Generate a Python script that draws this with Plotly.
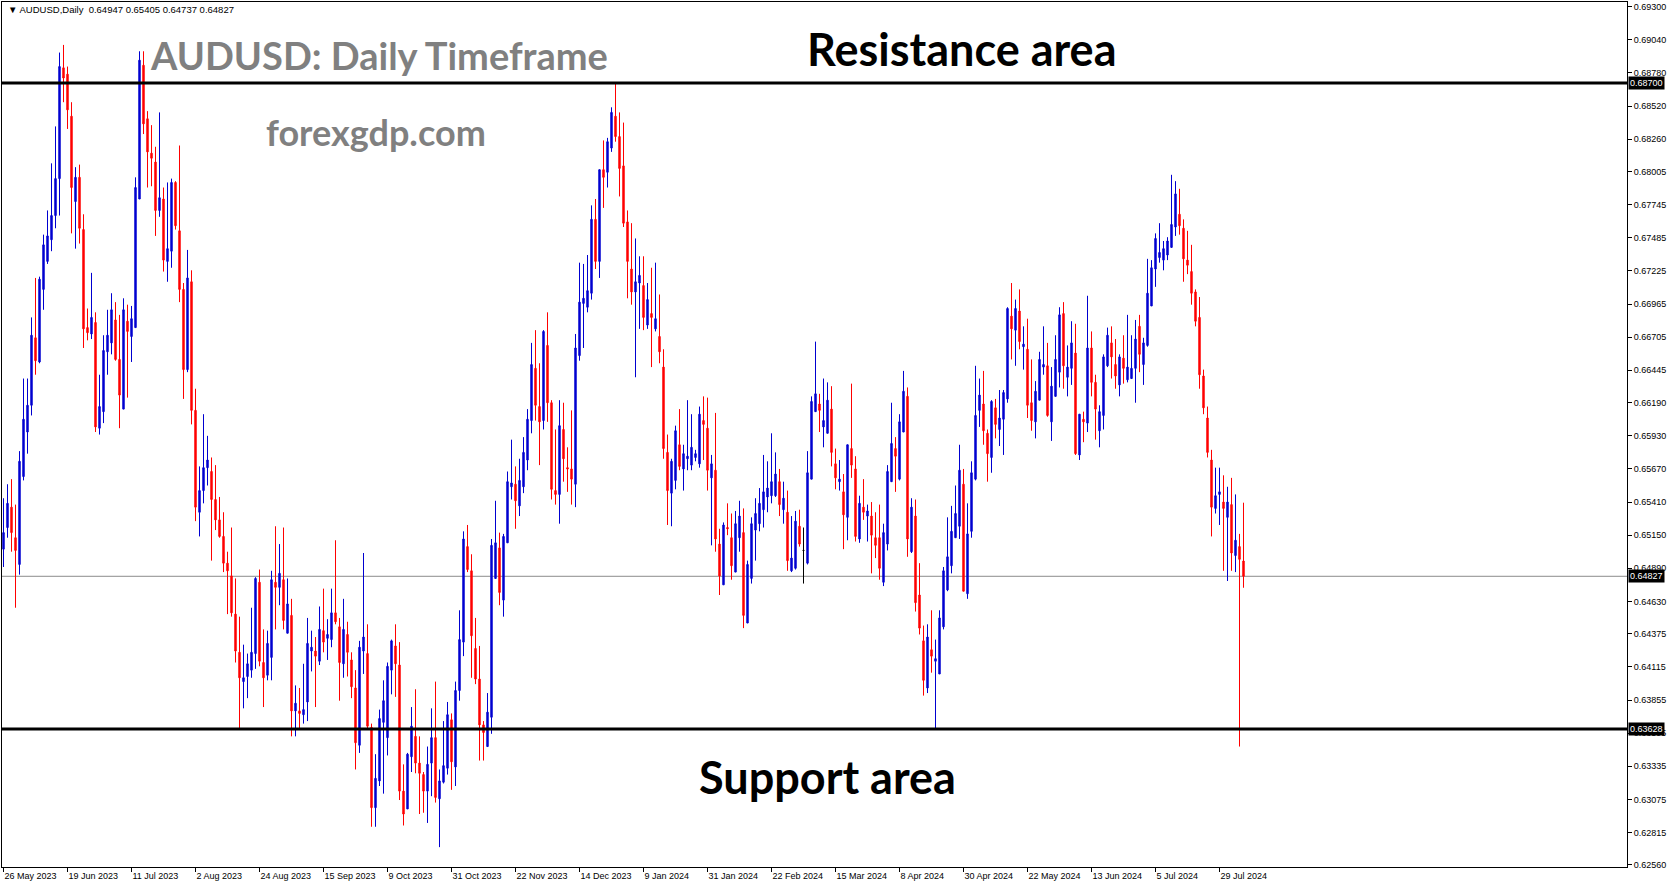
import plotly.graph_objects as go

# ---------------- data (AUDUSD daily) ----------------
open_ = [
    0.6504,0.6521,0.6537,0.6513,0.6492,0.6561,0.6596,0.6617,0.6670,0.6651,
    0.6708,0.6730,0.6747,0.6766,0.6795,0.6882,0.6877,0.6844,0.6777,0.6796,
    0.6755,0.6678,0.6673,0.6682,0.6599,0.6612,0.6659,0.6666,0.6684,0.6653,
    0.6614,0.6683,0.6671,0.6678,0.6779,0.6884,0.6842,0.6815,0.6808,0.6770,
    0.6779,0.6730,0.6738,0.6792,0.6754,0.6708,0.6645,0.6714,0.6613,0.6533,
    0.6550,0.6568,0.6565,0.6543,0.6527,0.6514,0.6493,0.6483,0.6453,0.6423,
    0.6400,0.6404,0.6409,0.6422,0.6478,0.6415,0.6405,0.6419,0.6478,0.6474,
    0.6480,0.6438,0.6452,0.6377,0.6377,0.6374,0.6384,0.6424,0.6424,0.6416,
    0.6440,0.6434,0.6433,0.6454,0.6443,0.6414,0.6437,0.6417,0.6395,0.6350,
    0.6424,0.6422,0.6364,0.6301,0.6322,0.6368,0.6356,0.6409,0.6428,0.6413,
    0.6314,0.6300,0.6341,0.6357,0.6336,0.6327,0.6314,0.6336,0.6356,0.6308,
    0.6321,0.6332,0.6370,0.6333,0.6393,0.6431,0.6506,0.6487,0.6426,0.6402,
    0.6366,0.6349,0.6372,0.6481,0.6505,0.6464,0.6509,0.6553,0.6555,0.6538,
    0.6553,0.6574,0.6605,0.6646,0.6616,0.6605,0.6664,0.6619,0.6550,0.6547,
    0.6598,0.6568,0.6567,0.6555,0.6656,0.6697,0.6694,0.6705,0.6763,0.6730,
    0.6802,0.6800,0.6819,0.6844,0.6828,0.6805,0.6761,0.6724,0.6706,0.6713,
    0.6711,0.6680,0.6689,0.6677,0.6671,0.6647,0.6580,0.6548,0.6558,0.6586,
    0.6567,0.6575,0.6570,0.6576,0.6571,0.6605,0.6599,0.6560,0.6566,0.6508,
    0.6476,0.6521,0.6513,0.6486,0.6513,0.6517,0.6446,0.6481,0.6519,0.6524,
    0.6535,0.6545,0.6546,0.6546,0.6557,0.6535,0.6533,0.6487,0.6489,0.6522,
    0.6503,0.6493,0.6559,0.6612,0.6618,0.6600,0.6595,0.6614,0.6571,0.6557,
    0.6549,0.6529,0.6583,0.6567,0.6512,0.6537,0.6530,0.6530,0.6513,0.6513,
    0.6478,0.6508,0.6557,0.6583,0.6559,0.6596,0.6624,0.6502,0.6530,0.6468,
    0.6432,0.6395,0.6425,0.6416,0.6406,0.6443,0.6472,0.6491,0.6513,0.6522,
    0.6555,0.6469,0.6518,0.6559,0.6613,0.6618,0.6595,0.6576,0.6615,0.6598,
    0.6606,0.6622,0.6687,0.6676,0.6691,0.6663,0.6661,0.6619,0.6604,0.6621,
    0.6647,0.6648,0.6604,0.6624,0.6643,0.6689,0.6639,0.6646,0.6658,0.6578,
    0.6606,0.6603,0.6662,0.6635,0.6597,0.6609,0.6648,0.6666,0.6649,0.6633,
    0.6654,0.6637,0.6638,0.6646,0.6679,0.6649,0.6664,0.6695,0.6724,0.6733,
    0.6731,0.6735,0.6741,0.6757,0.6767,0.6756,0.6731,0.6722,0.6706,0.6686,
    0.6640,0.6607,0.6574,0.6536,0.6547,0.6541,0.6529,0.6539,0.6499,0.6506,
    0.64947,
]
high = [
    0.6544,0.6555,0.6559,0.6539,0.6581,0.6638,0.6638,0.6686,0.6717,0.6718,
    0.6751,0.6770,0.6807,0.6836,0.6894,0.6900,0.6883,0.6855,0.6804,0.6806,
    0.6767,0.6693,0.6721,0.6690,0.6641,0.6672,0.6692,0.6705,0.6698,0.6688,
    0.6701,0.6696,0.6695,0.6796,0.6895,0.6895,0.6848,0.6837,0.6820,0.6847,
    0.6788,0.6792,0.6795,0.6793,0.6821,0.6713,0.6739,0.6723,0.6630,0.6569,
    0.6610,0.6593,0.6576,0.6570,0.6545,0.6533,0.6502,0.6521,0.6481,0.6451,
    0.6429,0.6422,0.6458,0.6482,0.6488,0.6441,0.6440,0.6487,0.6522,0.6508,
    0.6521,0.6481,0.6465,0.6397,0.6395,0.6414,0.6450,0.6440,0.6435,0.6459,
    0.6473,0.6449,0.6473,0.6511,0.6450,0.6465,0.6447,0.6423,0.6409,0.6432,
    0.6501,0.6445,0.6367,0.6343,0.6378,0.6401,0.6415,0.6433,0.6445,0.6431,
    0.6335,0.6344,0.6380,0.6394,0.6357,0.6329,0.6349,0.6379,0.6400,0.6331,
    0.6369,0.6384,0.6375,0.6400,0.6456,0.6518,0.6523,0.6500,0.6450,0.6428,
    0.6369,0.6391,0.6512,0.6542,0.6517,0.6516,0.6565,0.6590,0.6569,0.6575,
    0.6592,0.6614,0.6666,0.6676,0.6650,0.6676,0.6690,0.6621,0.6598,0.6621,
    0.6619,0.6584,0.6613,0.6673,0.6729,0.6728,0.6735,0.6774,0.6779,0.6802,
    0.6825,0.6827,0.6851,0.6870,0.6847,0.6839,0.6770,0.6760,0.6748,0.6734,
    0.6734,0.6713,0.6725,0.6729,0.6704,0.6661,0.6594,0.6575,0.6601,0.6614,
    0.6586,0.6621,0.6610,0.6582,0.6616,0.6624,0.6623,0.6578,0.6611,0.6520,
    0.6525,0.6540,0.6532,0.6534,0.6542,0.6536,0.6495,0.6529,0.6544,0.6552,
    0.6578,0.6573,0.6595,0.6580,0.6567,0.6557,0.6550,0.6530,0.6534,0.6535,
    0.6521,0.6581,0.6624,0.6667,0.6626,0.6638,0.6635,0.6632,0.6583,0.6574,
    0.6563,0.6586,0.6634,0.6577,0.6546,0.6559,0.6539,0.6541,0.6533,0.6539,
    0.6524,0.6570,0.6619,0.6592,0.6610,0.6644,0.6631,0.6544,0.6543,0.6493,
    0.6444,0.6445,0.6456,0.6433,0.6456,0.6490,0.6529,0.6538,0.6554,0.6586,
    0.6567,0.6540,0.6573,0.6648,0.6638,0.6644,0.6598,0.6621,0.6622,0.6629,
    0.6629,0.6694,0.6713,0.6700,0.6708,0.6679,0.6685,0.6653,0.6636,0.6659,
    0.6679,0.6666,0.6647,0.6672,0.6694,0.6698,0.6664,0.6683,0.6681,0.6610,
    0.6612,0.6703,0.6675,0.6641,0.6617,0.6657,0.6678,0.6679,0.6669,0.6657,
    0.6672,0.6688,0.6672,0.6684,0.6688,0.6670,0.6732,0.6731,0.6752,0.6760,
    0.6746,0.6749,0.6798,0.6793,0.6787,0.6763,0.6754,0.6743,0.6708,0.6702,
    0.6645,0.6616,0.6582,0.6568,0.6568,0.6562,0.6553,0.6560,0.6547,0.6516,
    0.65405,
]
low = [
    0.6490,0.6513,0.6502,0.6458,0.6484,0.6558,0.6579,0.6609,0.6641,0.6650,
    0.6692,0.6728,0.6738,0.6756,0.6766,0.6855,0.6834,0.6752,0.6740,0.6744,
    0.6662,0.6668,0.6669,0.6596,0.6594,0.6603,0.6641,0.6657,0.6652,0.6599,
    0.6614,0.6623,0.6651,0.6678,0.6779,0.6830,0.6788,0.6789,0.6750,0.6765,
    0.6722,0.6714,0.6725,0.6755,0.6698,0.6622,0.6643,0.6602,0.6526,0.6514,
    0.6540,0.6554,0.6495,0.6519,0.6513,0.6486,0.6453,0.6451,0.6415,0.6363,
    0.6379,0.6387,0.6403,0.6410,0.6412,0.6380,0.6401,0.6401,0.6441,0.6460,
    0.6441,0.6438,0.6357,0.6357,0.6363,0.6367,0.6369,0.6408,0.6380,0.6413,
    0.6423,0.6417,0.6427,0.6445,0.6385,0.6403,0.6404,0.6387,0.6331,0.6344,
    0.6406,0.6362,0.6286,0.6286,0.6318,0.6312,0.6342,0.6390,0.6388,0.6307,
    0.6287,0.6300,0.6329,0.6328,0.6296,0.6297,0.6289,0.6310,0.6305,0.6270,
    0.6320,0.6327,0.6315,0.6318,0.6385,0.6420,0.6486,0.6403,0.6398,0.6338,
    0.6338,0.6349,0.6359,0.6481,0.6460,0.6451,0.6509,0.6543,0.6520,0.6530,
    0.6548,0.6566,0.6595,0.6605,0.6570,0.6598,0.6604,0.6543,0.6539,0.6524,
    0.6557,0.6549,0.6539,0.6537,0.6652,0.6662,0.6690,0.6700,0.6724,0.6717,
    0.6772,0.6788,0.6816,0.6824,0.6781,0.6757,0.6701,0.6696,0.6639,0.6677,
    0.6676,0.6677,0.6647,0.6675,0.6650,0.6575,0.6523,0.6522,0.6551,0.6566,
    0.6550,0.6566,0.6566,0.6573,0.6568,0.6574,0.6550,0.6507,0.6502,0.6468,
    0.6476,0.6515,0.6480,0.6486,0.6502,0.6442,0.6446,0.6477,0.6495,0.6518,
    0.6521,0.6533,0.6540,0.6545,0.6530,0.6524,0.6487,0.6486,0.6488,0.6506,
    0.6477,0.6492,0.6559,0.6612,0.6596,0.6584,0.6595,0.6569,0.6551,0.6550,
    0.6504,0.6511,0.6560,0.6510,0.6509,0.6527,0.6510,0.6485,0.6497,0.6480,
    0.6475,0.6503,0.6557,0.6549,0.6558,0.6596,0.6498,0.6501,0.6455,0.6437,
    0.6389,0.6391,0.6407,0.6363,0.6406,0.6441,0.6471,0.6485,0.6513,0.6512,
    0.6471,0.6465,0.6513,0.6558,0.6600,0.6586,0.6557,0.6564,0.6591,0.6585,
    0.6578,0.6619,0.6653,0.6648,0.6661,0.6645,0.6607,0.6597,0.6591,0.6621,
    0.6641,0.6608,0.6589,0.6624,0.6631,0.6630,0.6624,0.6633,0.6578,0.6574,
    0.6588,0.6596,0.6624,0.6590,0.6584,0.6598,0.6647,0.6638,0.6630,0.6624,
    0.6634,0.6635,0.6638,0.6619,0.6643,0.6633,0.6663,0.6695,0.6710,0.6729,
    0.6723,0.6731,0.6741,0.6750,0.6751,0.6714,0.6720,0.6696,0.6679,0.6630,
    0.6610,0.6576,0.6514,0.6532,0.6523,0.6487,0.6479,0.6487,0.6486,0.6349,
    0.64737,
]
close = [
    0.6517,0.6540,0.6517,0.6503,0.6573,0.6606,0.6617,0.6672,0.6652,0.6716,
    0.6743,0.6750,0.6766,0.6795,0.6883,0.6874,0.6849,0.6788,0.6796,0.6756,
    0.6677,0.6674,0.6686,0.6600,0.6616,0.6660,0.6672,0.6692,0.6653,0.6625,
    0.6692,0.6675,0.6685,0.6788,0.6888,0.6838,0.6816,0.6811,0.6770,0.6780,
    0.6731,0.6740,0.6792,0.6758,0.6708,0.6645,0.6717,0.6613,0.6537,0.6550,
    0.6568,0.6574,0.6543,0.6527,0.6514,0.6493,0.6487,0.6454,0.6424,0.6403,
    0.6403,0.6414,0.6423,0.6481,0.6416,0.6403,0.6430,0.6480,0.6474,0.6485,
    0.6448,0.6461,0.6377,0.6383,0.6375,0.6378,0.6430,0.6427,0.6420,0.6441,
    0.6431,0.6437,0.6454,0.6447,0.6415,0.6441,0.6423,0.6396,0.6352,0.6427,
    0.6435,0.6365,0.6301,0.6324,0.6371,0.6385,0.6412,0.6432,0.6414,0.6314,
    0.6296,0.6343,0.6365,0.6336,0.6328,0.6314,0.6335,0.6356,0.6309,0.6322,
    0.6334,0.6374,0.6337,0.6393,0.6433,0.6512,0.6488,0.6436,0.6402,0.6366,
    0.6360,0.6376,0.6507,0.6509,0.6470,0.6514,0.6557,0.6556,0.6542,0.6558,
    0.6580,0.6606,0.6649,0.6617,0.6604,0.6675,0.6619,0.6551,0.6547,0.6601,
    0.6575,0.6567,0.6559,0.6662,0.6698,0.6701,0.6707,0.6763,0.6730,0.6802,
    0.6796,0.6824,0.6847,0.6828,0.6803,0.6760,0.6730,0.6706,0.6714,0.6719,
    0.6686,0.6700,0.6686,0.6685,0.6659,0.6583,0.6550,0.6573,0.6597,0.6569,
    0.6579,0.6577,0.6584,0.6579,0.6610,0.6602,0.6566,0.6571,0.6512,0.6483,
    0.6523,0.6520,0.6491,0.6524,0.6530,0.6452,0.6492,0.6524,0.6532,0.6540,
    0.6549,0.6552,0.6557,0.6563,0.6539,0.6544,0.6495,0.6497,0.6526,0.6508,
    0.6503,0.6564,0.6620,0.6626,0.6613,0.6605,0.6621,0.6580,0.6560,0.6559,
    0.6531,0.6586,0.6570,0.6514,0.6540,0.6533,0.6534,0.6515,0.6507,0.6489,
    0.6517,0.6565,0.6587,0.6577,0.6604,0.6628,0.6512,0.6537,0.6462,0.6442,
    0.6401,0.6435,0.6420,0.6418,0.6450,0.6487,0.6498,0.6518,0.6532,0.6566,
    0.6471,0.6516,0.6564,0.6609,0.6625,0.6597,0.6579,0.6620,0.6602,0.6607,
    0.6627,0.6693,0.6677,0.6693,0.6667,0.6665,0.6617,0.6605,0.6628,0.6653,
    0.6649,0.6609,0.6632,0.6653,0.6688,0.6648,0.6647,0.6666,0.6579,0.6610,
    0.6604,0.6662,0.6635,0.6614,0.6612,0.6655,0.6672,0.6655,0.6640,0.6655,
    0.6646,0.6647,0.6646,0.6669,0.6657,0.6666,0.6705,0.6725,0.6748,0.6737,
    0.6740,0.6746,0.6759,0.6783,0.6758,0.6732,0.6727,0.6705,0.6683,0.6641,
    0.6615,0.6580,0.6537,0.6546,0.6549,0.6536,0.6541,0.6501,0.6511,0.6496,
    0.64827,
]

date_labels = ["26 May 2023", "19 Jun 2023", "11 Jul 2023", "2 Aug 2023", "24 Aug 2023",
               "15 Sep 2023", "9 Oct 2023", "31 Oct 2023", "22 Nov 2023", "14 Dec 2023",
               "9 Jan 2024", "31 Jan 2024", "22 Feb 2024", "15 Mar 2024", "8 Apr 2024",
               "30 Apr 2024", "22 May 2024", "13 Jun 2024", "5 Jul 2024", "29 Jul 2024"]
date_label_bars = [0, 16, 32, 48, 64, 80, 96, 112, 128, 144, 160, 176, 192, 208, 224,
                   240, 256, 272, 288, 304]

price_ticks = [0.69300, 0.69040, 0.68780, 0.68520, 0.68260, 0.68005, 0.67745, 0.67485,
               0.67225, 0.66965, 0.66705, 0.66445, 0.66190, 0.65930, 0.65670, 0.65410,
               0.65150, 0.64890, 0.64630, 0.64375, 0.64115, 0.63855, 0.63595, 0.63335,
               0.63075, 0.62815, 0.62560]

resistance = 0.68700
support = 0.63628
last_price = 0.64827
header_ohlc = [0.64947, 0.65405, 0.64737, 0.64827]

# ---------------- figure ----------------
BLUE = "#0000D0"
RED = "#FF0000"

n = len(close)
assert len(open_) == len(high) == len(low) == n
bars = list(range(n))
hi = [max(h, o, c) for h, o, c in zip(high, open_, close)]
lo = [min(l, o, c) for l, o, c in zip(low, open_, close)]

norm = [i for i in bars if open_[i] != close[i]]
doji = [i for i in bars if open_[i] == close[i]]

fig = go.Figure()
fig.add_trace(go.Candlestick(
    x=norm,
    open=[open_[i] for i in norm], high=[hi[i] for i in norm],
    low=[lo[i] for i in norm], close=[close[i] for i in norm],
    increasing=dict(line=dict(color=BLUE, width=1), fillcolor=BLUE),
    decreasing=dict(line=dict(color=RED, width=1), fillcolor=RED),
    whiskerwidth=0, showlegend=False, hoverinfo="skip",
))
if doji:
    fig.add_trace(go.Candlestick(
        x=doji,
        open=[open_[i] for i in doji], high=[hi[i] for i in doji],
        low=[lo[i] for i in doji], close=[close[i] for i in doji],
        increasing=dict(line=dict(color="black", width=1), fillcolor="black"),
        decreasing=dict(line=dict(color="black", width=1), fillcolor="black"),
        whiskerwidth=0, showlegend=False, hoverinfo="skip",
    ))

# horizontal levels
fig.add_shape(type="line", xref="paper", x0=0, x1=1, yref="y", y0=last_price, y1=last_price,
              line=dict(color="#8C8C8C", width=1), layer="below")
for lvl in (resistance, support):
    fig.add_shape(type="line", xref="paper", x0=0, x1=1, yref="y", y0=lvl, y1=lvl,
                  line=dict(color="black", width=3), layer="above")

AX_FONT = dict(family="Liberation Sans, Arial, sans-serif", size=9, color="black")

# price boxes on the right axis
for lvl in (resistance, last_price, support):
    fig.add_annotation(xref="paper", x=1, xanchor="left", xshift=1,
                       yref="y", y=lvl, yanchor="middle",
                       text=f"{lvl:.5f}", showarrow=False,
                       font=dict(family=AX_FONT["family"], size=9, color="white"),
                       bgcolor="black", borderpad=1)

# header line
fig.add_annotation(xref="paper", yref="paper", x=0.0025, y=0.9915, xanchor="left", yanchor="middle",
                   text="▼ AUDUSD,Daily  " + " ".join(f"{v:.5f}" for v in header_ohlc),
                   showarrow=False,
                   font=dict(family=AX_FONT["family"], size=9.5, color="black"))

TXT = "Lato, Open Sans, sans-serif"
fig.add_annotation(xref="paper", yref="paper", x=0.232, y=0.9387, xanchor="center", yanchor="middle",
                   text="<b>AUDUSD: Daily Timeframe</b>", showarrow=False,
                   font=dict(family=TXT, size=38, color="#808080"))
fig.add_annotation(xref="paper", yref="paper", x=0.230, y=0.8497, xanchor="center", yanchor="middle",
                   text="<b>forexgdp.com</b>", showarrow=False,
                   font=dict(family=TXT, size=36, color="#808080"))
fig.add_annotation(xref="paper", yref="paper", x=0.5908, y=0.9457, xanchor="center", yanchor="middle",
                   text="<b>Resistance area</b>", showarrow=False,
                   font=dict(family=TXT, size=45, color="black"))
fig.add_annotation(xref="paper", yref="paper", x=0.5077, y=0.104, xanchor="center", yanchor="middle",
                   text="<b>Support area</b>", showarrow=False,
                   font=dict(family=TXT, size=45, color="black"))

fig.update_layout(
    width=1673, height=888,
    margin=dict(l=2, r=46, t=2, b=21),
    paper_bgcolor="white", plot_bgcolor="white",
    boxgap=0.5,
    showlegend=False,
    hovermode=False,
    xaxis=dict(
        range=[-0.375, 405.875], rangeslider=dict(visible=False),
        showgrid=False, zeroline=False,
        showline=True, linecolor="black", linewidth=1, mirror=True,
        ticks="outside", ticklen=4, tickcolor="black", tickwidth=1,
        tickvals=date_label_bars, ticktext=date_labels,
        ticklabelposition="outside right",
        tickfont=AX_FONT,
    ),
    yaxis=dict(
        side="right", range=[0.62544, 0.69337],
        showgrid=False, zeroline=False,
        showline=True, linecolor="black", linewidth=1, mirror=True,
        ticks="outside", ticklen=4, tickcolor="black", tickwidth=1,
        tickvals=price_ticks, ticktext=[f"{v:.5f}" for v in price_ticks],
        tickfont=AX_FONT,
    ),
)

fig.write_html(
    "out.html",
    config={"displayModeBar": False},
    post_script="document.body.style.margin='0';document.body.style.overflow='hidden';",
)
